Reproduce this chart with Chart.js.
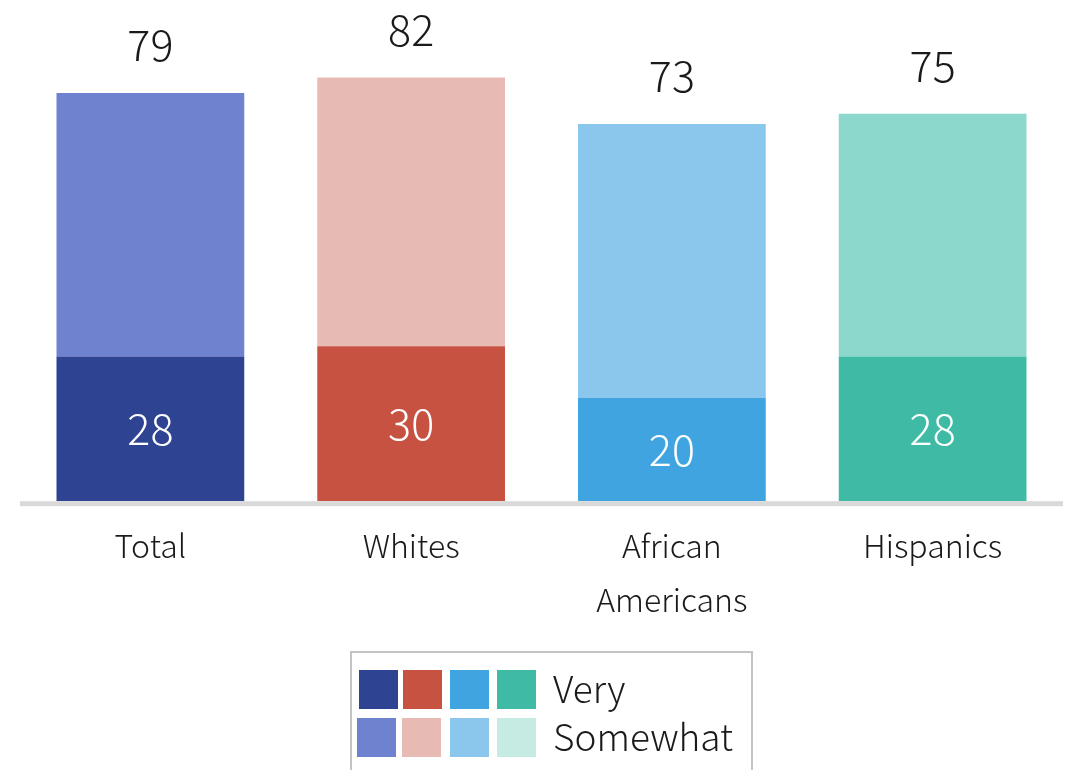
<!DOCTYPE html>
<html>
<head>
<meta charset="utf-8">
<script src="https://cdn.jsdelivr.net/npm/chart.js@4"></script>
<style>
  html, body { margin: 0; padding: 0; background: #ffffff; }
  #wrap { width: 1066px; height: 770px; position: relative; }
</style>
</head>
<body>
<div id="wrap"><canvas id="c" width="1066" height="770"></canvas></div>
<script>
const categories = ['Total', 'Whites', ['African', 'Americans'], 'Hispanics'];
const veryValues = [28, 30, 20, 28];
const totalValues = [79, 82, 73, 75];
const somewhatValues = totalValues.map((t, i) => t - veryValues[i]);
const seriesNames = ['Very', 'Somewhat'];
const veryColors = ['#2e4391', '#c85242', '#3fa4e0', '#3fbba5'];
const somewhatColors = ['#6f82cf', '#e8bab4', '#8bc7ec', '#8cd8cc'];
const somewhatLegendColors = ['#6f82cf', '#e8bab4', '#8bc7ec', '#c5ebe2'];

const FONT = '"Noto Sans CJK JP", "Noto Sans", sans-serif';

const labelsPlugin = {
  id: 'labelsPlugin',
  afterDatasetsDraw(chart) {
    const ctx = chart.ctx;
    const x = chart.scales.x, y = chart.scales.y;
    const area = chart.chartArea;
    const y0 = y.getPixelForValue(0);
    ctx.save();
    ctx.fillStyle = '#d9d9d9';
    ctx.fillRect(area.left, y0, area.right - area.left, 5);
    ctx.restore();

    ctx.save();
    ctx.font = '300 43px ' + FONT;
    ctx.textAlign = 'center';
    ctx.textBaseline = 'middle';
    const veryMeta = chart.getDatasetMeta(0);
    veryMeta.data.forEach((bar, i) => {
      const cx = bar.x;
      const cy = (bar.y + bar.base) / 2;
      ctx.fillStyle = '#ffffff';
      ctx.fillText(String(veryValues[i]), cx, cy);
    });
    totalValues.forEach((t, i) => {
      const cx = x.getPixelForValue(i);
      const top = y.getPixelForValue(t);
      ctx.fillStyle = '#1a1a1a';
      ctx.fillText(String(t), cx, top - 48);
    });
    ctx.restore();

    ctx.save();
    const lx = 351, ly = 652, lw = 401, lh = 130;
    ctx.strokeStyle = '#c4c4c4';
    ctx.lineWidth = 2;
    ctx.strokeRect(lx, ly, lw, lh);
    const rowsY = [670, 718];
    const rowColors = [veryColors, somewhatLegendColors];
    const colX = [[359, 403, 450, 497], [357, 402, 450, 497]];
    for (let r = 0; r < 2; r++) {
      for (let k = 0; k < 4; k++) {
        ctx.fillStyle = rowColors[r][k];
        ctx.fillRect(colX[r][k], rowsY[r], 39, 39);
      }
      ctx.fillStyle = '#1a1a1a';
      ctx.font = '300 37px ' + FONT;
      ctx.textAlign = 'left';
      ctx.textBaseline = 'middle';
      ctx.fillText(seriesNames[r], 553, rowsY[r] + 19);
    }
    ctx.restore();
  }
};

new Chart(document.getElementById('c'), {
  type: 'bar',
  data: {
    labels: categories,
    datasets: [
      { label: seriesNames[0], data: veryValues, backgroundColor: veryColors, borderWidth: 0 },
      { label: seriesNames[1], data: somewhatValues, backgroundColor: somewhatColors, borderWidth: 0 }
    ]
  },
  options: {
    responsive: false,
    animation: false,
    devicePixelRatio: 1,
    layout: { padding: { left: 20, right: 3, top: 0, bottom: 126 } },
    plugins: { legend: { display: false }, tooltip: { enabled: false } },
    scales: {
      x: {
        stacked: true,
        grid: { display: false, drawTicks: false },
        border: { display: false },
        barPercentage: 0.717,
        categoryPercentage: 1.0,
        ticks: {
          color: '#1a1a1a',
          font: { family: FONT, size: 32, weight: 300, lineHeight: 1.7 },
          padding: 17,
          maxRotation: 0,
          autoSkip: false
        }
      },
      y: {
        stacked: true,
        display: false,
        min: 0,
        max: 97
      }
    }
  },
  plugins: [labelsPlugin]
});
</script>
</body>
</html>
